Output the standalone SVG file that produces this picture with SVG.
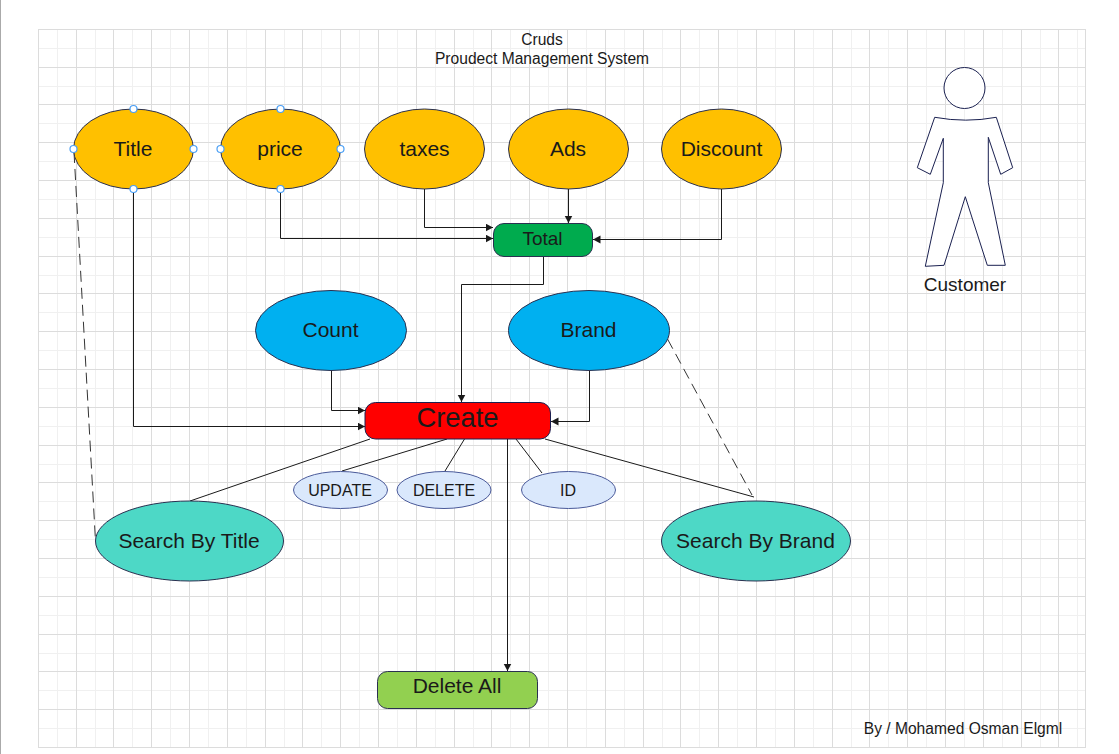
<svg xmlns="http://www.w3.org/2000/svg" width="1119" height="754" viewBox="0 0 1119 754">
<style>
text{font-family:"Liberation Sans",Arial,sans-serif;fill:#1a1a1a;text-anchor:middle}
.t21{font-size:21px}.t16{font-size:16px}.t15{font-size:15.6px}
.minor{fill:none;stroke:#f0f0f0;stroke-width:1}
.major{fill:none;stroke:#dcdcdc;stroke-width:1}
.n{stroke:#2a3050;stroke-width:1}
.or{fill:#ffc000}.bl{fill:#00b0f0}.tq{fill:#4dd8c6}
.lb{fill:#dae8fc;stroke:#4a5a9a;stroke-width:1}
.c{fill:none;stroke:#1a1a1a;stroke-width:1}
.d{fill:none;stroke:#333;stroke-width:1;stroke-dasharray:11 6}
.h{fill:#fff;stroke:#4a9ff5;stroke-width:1.2}
.p{fill:#fff;stroke:#1a2050;stroke-width:1}
</style>
<defs>
<marker id="a" markerUnits="userSpaceOnUse" markerWidth="9" markerHeight="9" refX="7.5" refY="4" orient="auto"><path d="M0 0L7.5 4L0 8Z" fill="#1a1a1a"/></marker>
</defs>
<rect width="1119" height="754" fill="#fff"/>
<rect x="0" y="0" width="1" height="754" fill="#aaa"/>
<g id="grid">
<path class="minor" d="M57.5 29V748M95.5 29V748M132.5 29V748M170.5 29V748M208.5 29V748M246.5 29V748M284.5 29V748M321.5 29V748M359.5 29V748M397.5 29V748M435.5 29V748M473.5 29V748M510.5 29V748M548.5 29V748M586.5 29V748M624.5 29V748M662.5 29V748M699.5 29V748M737.5 29V748M775.5 29V748M813.5 29V748M851.5 29V748M888.5 29V748M926.5 29V748M964.5 29V748M1002.5 29V748M1040.5 29V748M1077.5 29V748M38 48.5H1086M38 86.5H1086M38 123.5H1086M38 161.5H1086M38 199.5H1086M38 237.5H1086M38 275.5H1086M38 312.5H1086M38 350.5H1086M38 388.5H1086M38 426.5H1086M38 464.5H1086M38 501.5H1086M38 539.5H1086M38 577.5H1086M38 615.5H1086M38 653.5H1086M38 690.5H1086M38 728.5H1086"/>
<path class="major" d="M38.5 29V748M76.5 29V748M113.5 29V748M151.5 29V748M189.5 29V748M227.5 29V748M265.5 29V748M302.5 29V748M340.5 29V748M378.5 29V748M416.5 29V748M454.5 29V748M491.5 29V748M529.5 29V748M567.5 29V748M605.5 29V748M643.5 29V748M680.5 29V748M718.5 29V748M756.5 29V748M794.5 29V748M832.5 29V748M869.5 29V748M907.5 29V748M945.5 29V748M983.5 29V748M1021.5 29V748M1058.5 29V748M1085.5 29V748M38 29.5H1086M38 67.5H1086M38 104.5H1086M38 142.5H1086M38 180.5H1086M38 218.5H1086M38 256.5H1086M38 293.5H1086M38 331.5H1086M38 369.5H1086M38 407.5H1086M38 445.5H1086M38 482.5H1086M38 520.5H1086M38 558.5H1086M38 596.5H1086M38 634.5H1086M38 671.5H1086M38 709.5H1086M38 747.5H1086"/>
</g>
<g id="connectors">
<path class="c" marker-end="url(#a)" d="M280.5 189V238.5H493"/>
<path class="c" marker-end="url(#a)" d="M424.5 189V227.5H493"/>
<path class="c" marker-end="url(#a)" d="M568.5 189V223"/>
<path class="c" marker-end="url(#a)" d="M721.5 189V239.5H593"/>
<path class="c" marker-end="url(#a)" d="M543.5 257V284.5H461.5V402"/>
<path class="c" marker-end="url(#a)" d="M133.5 189V426.5H365"/>
<path class="c" marker-end="url(#a)" d="M331.5 370V410.5H365"/>
<path class="c" marker-end="url(#a)" d="M589.5 370V421.5H551"/>
<path class="c" marker-end="url(#a)" d="M507.5 439V671"/>
<path class="c" d="M190 501L370 439M342 471L447 439M445 471L464.5 439M542 473L516 439M545 439L754 497"/>
<path class="d" d="M74 152L95.5 541M667.5 339L752 495"/>
</g>
<g id="title"><text class="t15" x="542" y="45">Cruds</text><text class="t15" x="542" y="64">Proudect Management System</text></g>
<g id="n-title"><ellipse class="n or" cx="133.5" cy="149" rx="60" ry="40"/><text class="t21" x="133" y="156">Title</text>
<circle class="h" cx="133.5" cy="109" r="3.5"/><circle class="h" cx="133.5" cy="189" r="3.5"/><circle class="h" cx="73.5" cy="149" r="3.5"/><circle class="h" cx="193.5" cy="149" r="3.5"/></g>
<g id="n-price"><ellipse class="n or" cx="280.5" cy="149" rx="60" ry="40"/><text class="t21" x="280" y="156">price</text>
<circle class="h" cx="280.5" cy="109" r="3.5"/><circle class="h" cx="280.5" cy="189" r="3.5"/><circle class="h" cx="220.5" cy="149" r="3.5"/><circle class="h" cx="340.5" cy="149" r="3.5"/></g>
<g id="n-taxes"><ellipse class="n or" cx="424.5" cy="149" rx="60" ry="40"/><text class="t21" x="424.5" y="156">taxes</text></g>
<g id="n-ads"><ellipse class="n or" cx="568.5" cy="149" rx="60" ry="40"/><text class="t21" x="568" y="156">Ads</text></g>
<g id="n-discount"><ellipse class="n or" cx="721.5" cy="149" rx="60" ry="40"/><text class="t21" x="721.5" y="156">Discount</text></g>
<g id="n-total"><rect class="n" x="493.5" y="223.5" width="99" height="33" rx="10.5" fill="#00ab4e"/><text font-size="19" x="542.5" y="245">Total</text></g>
<g id="n-count"><ellipse class="n bl" cx="331" cy="330.5" rx="75.5" ry="40"/><text class="t21" x="330.5" y="337">Count</text></g>
<g id="n-brand"><ellipse class="n bl" cx="589" cy="330.5" rx="80.5" ry="40"/><text class="t21" x="588.5" y="337">Brand</text></g>
<g id="n-create"><rect x="365" y="402.5" width="185.5" height="36.5" rx="10.5" fill="#f00" stroke="#1a2050"/><text font-size="27.4" x="457.5" y="427">Create</text></g>
<g id="n-update"><ellipse class="lb" cx="340.5" cy="490" rx="47" ry="18.5"/><text class="t16" x="340" y="496">UPDATE</text></g>
<g id="n-delete"><ellipse class="lb" cx="444" cy="490" rx="47" ry="18.5"/><text class="t16" x="444" y="496">DELETE</text></g>
<g id="n-id"><ellipse class="lb" cx="568.5" cy="490" rx="47" ry="18.5"/><text class="t16" x="568" y="496">ID</text></g>
<g id="n-search-title"><ellipse class="n tq" cx="189.5" cy="541" rx="94" ry="40"/><text class="t21" x="189" y="548">Search By Title</text></g>
<g id="n-search-brand"><ellipse class="n tq" cx="756" cy="541" rx="94.5" ry="40"/><text class="t21" x="755.5" y="548">Search By Brand</text></g>
<g id="n-delete-all"><rect class="n" x="377.5" y="671.5" width="160" height="37" rx="10" fill="#92d050"/><text class="t21" x="457" y="693">Delete All</text></g>
<g id="n-customer">
<circle class="p" cx="964.5" cy="88" r="20.5"/>
<path class="p" d="M934.7 117.3Q966 123 996.3 117.3L1012.7 167.7L1000.7 174.3L988.3 137.3V182.7L1005.3 265.3H987.3L965.3 196.7L944 265.3L925.3 266.3L943.3 182.7V138.3L930.3 174.3L917.3 167.7Z"/>
<text font-size="19" x="965" y="291">Customer</text>
</g>
<g id="credit"><text class="t15" x="963" y="734">By / Mohamed Osman Elgml</text></g>
</svg>
